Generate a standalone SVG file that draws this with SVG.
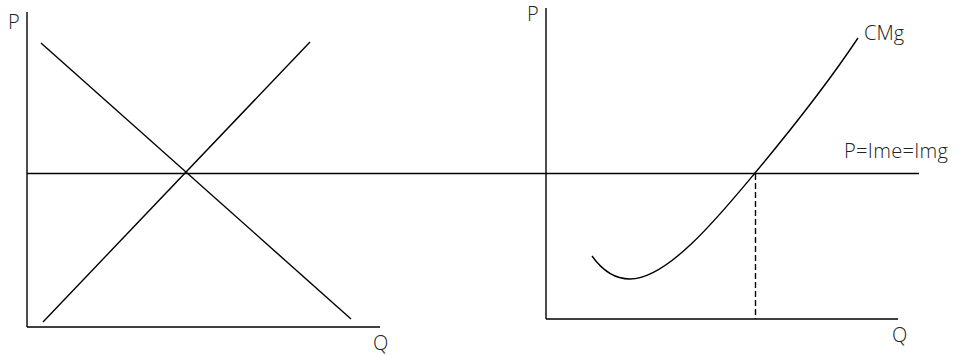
<svg xmlns="http://www.w3.org/2000/svg" width="958" height="356" viewBox="0 0 958 356">
<style>
.ln{stroke:#000;stroke-width:1.4;fill:none;stroke-linecap:butt}
.dash{stroke:#000;stroke-width:1.4;fill:none;stroke-dasharray:6 3}
.lbl{font-family:"Open Sans","Liberation Sans",sans-serif;font-size:20px;font-weight:300;fill:#222}
</style>
<rect width="958" height="356" fill="#fff"/>
<g id="connectors">
<line class="ln" x1="27" y1="12" x2="27" y2="327"/>
<line class="ln" x1="27" y1="327" x2="380" y2="327"/>
<line class="ln" x1="27" y1="173.5" x2="919" y2="173.5"/>
<line class="ln" x1="41" y1="43" x2="351" y2="319"/>
<line class="ln" x1="43" y1="322" x2="310" y2="42"/>
<line class="ln" x1="546" y1="8" x2="546" y2="319"/>
<line class="ln" x1="546" y1="319" x2="898" y2="319"/>
<path class="ln" d="M592,256 C602,270 615,279 630,279 C668,279 720,215 755,173 C790,131 830,80 858,38"/>
<line class="dash" x1="755.5" y1="174" x2="755.5" y2="319"/>
</g>
<g id="labels">
<text class="lbl" x="8" y="29">P</text>
<text class="lbl" x="373" y="350">Q</text>
<text class="lbl" x="527" y="21">P</text>
<text class="lbl" x="864" y="40">CMg</text>
<text class="lbl" x="844" y="158" textLength="104">P=Ime=Img</text>
<text class="lbl" x="892" y="342">Q</text>
</g>
</svg>
